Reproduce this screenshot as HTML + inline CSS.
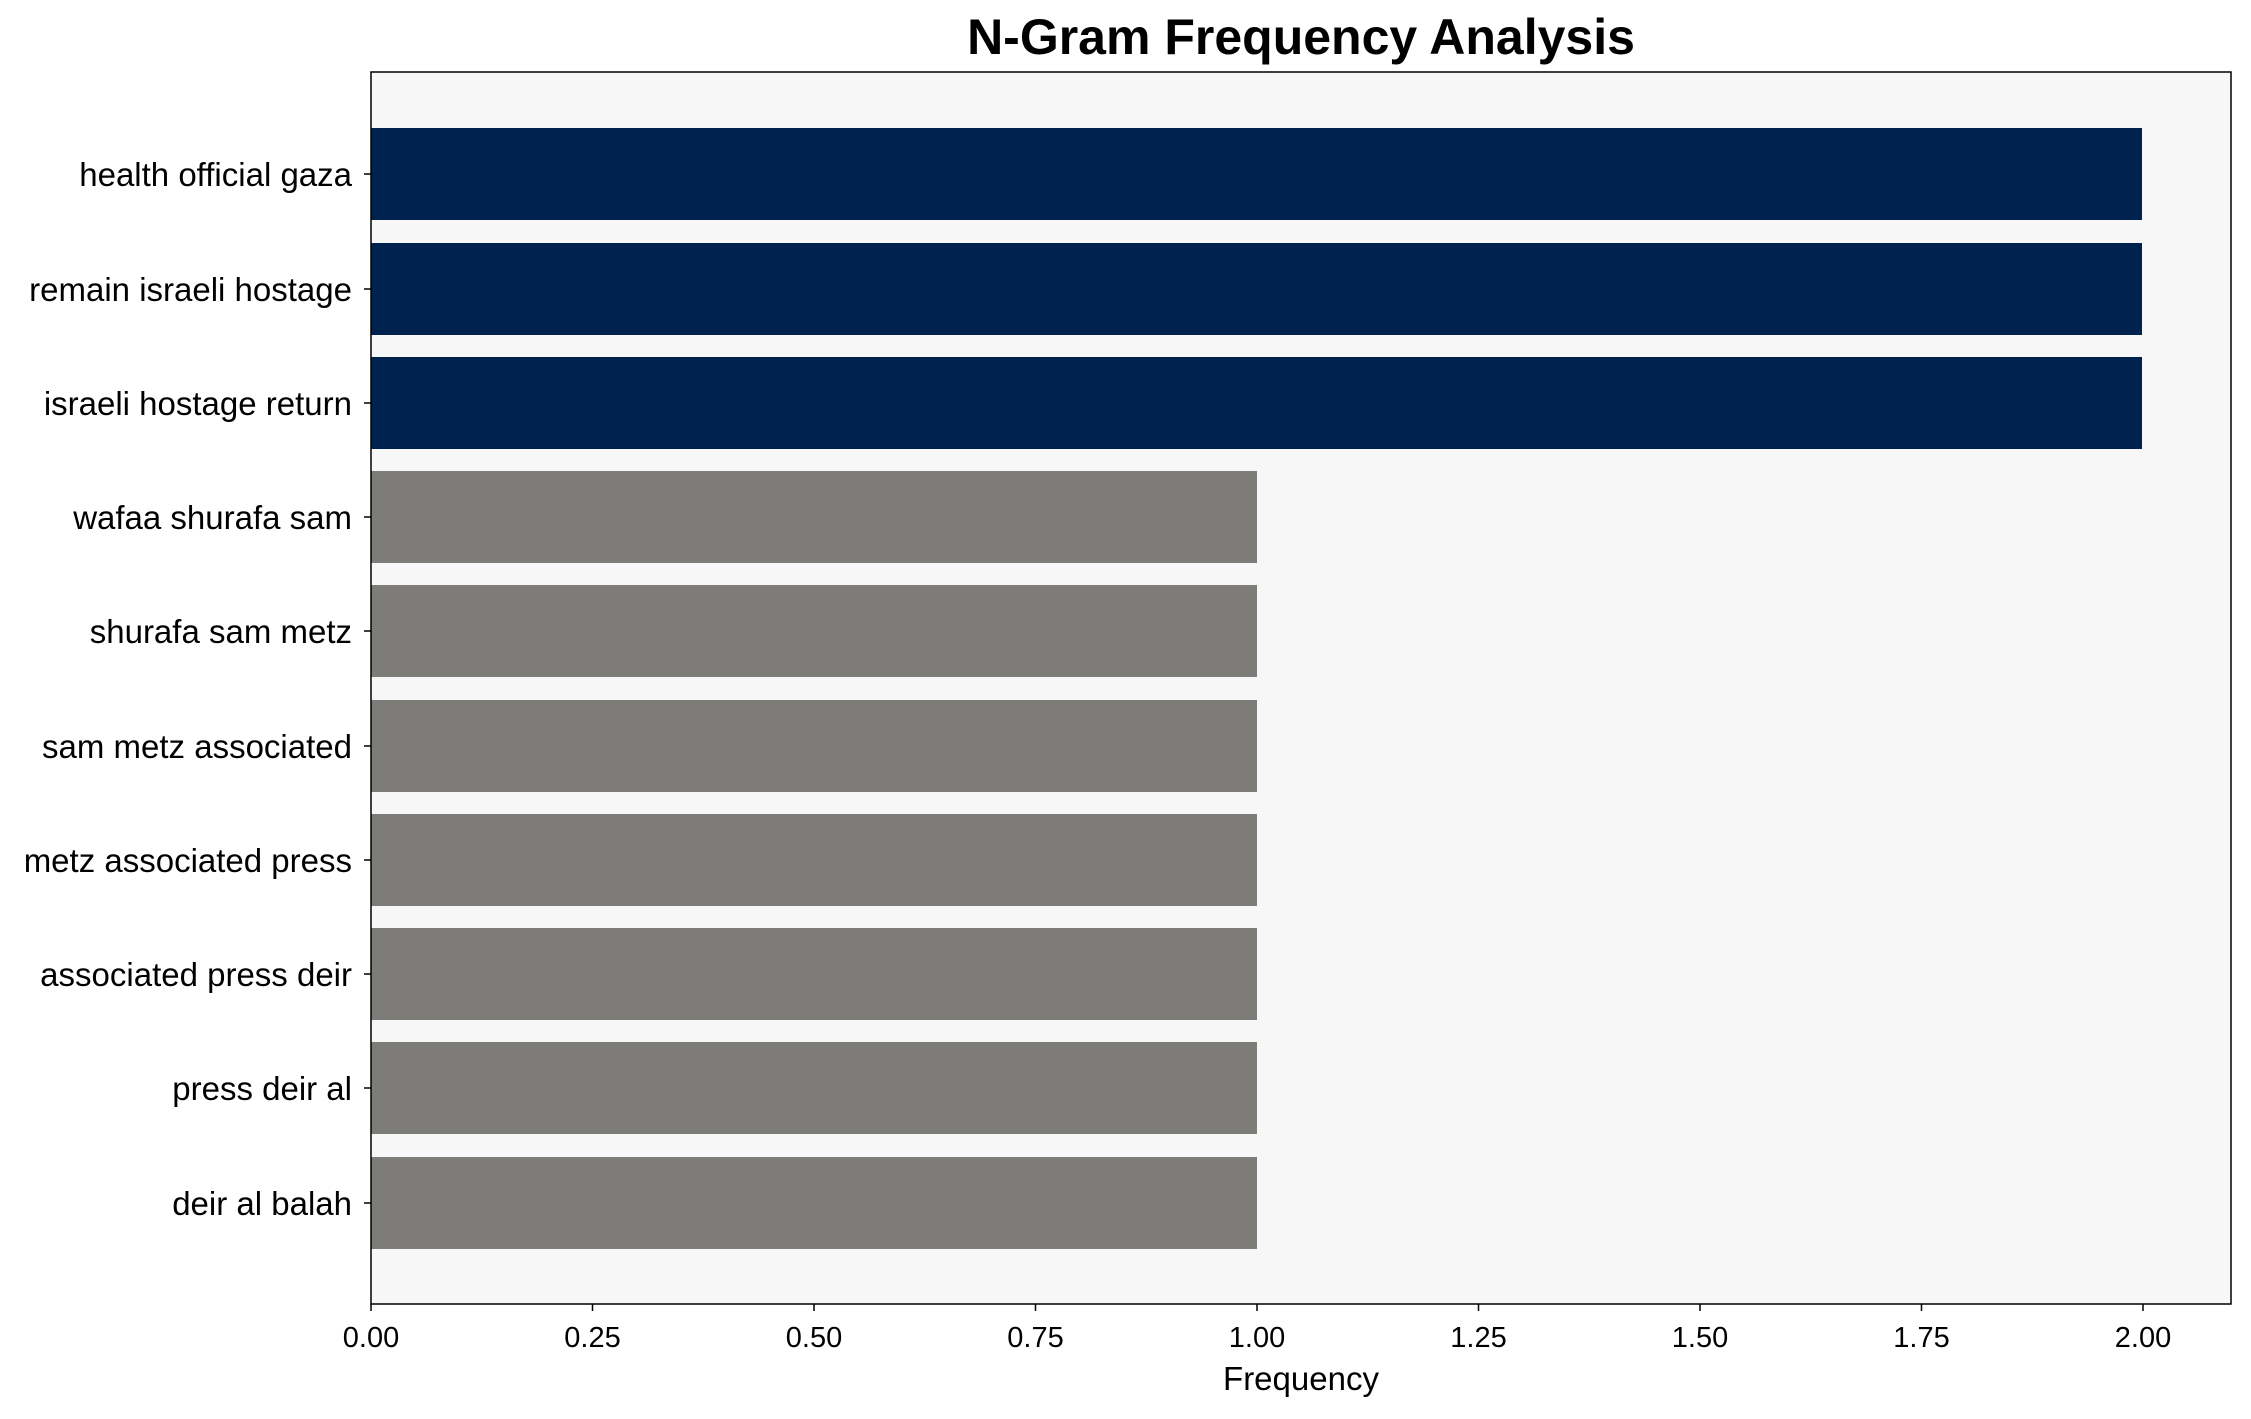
<!DOCTYPE html>
<html><head><style>body{margin:0;background:#fff}</style></head><body>
<svg width="2251" height="1414" xmlns="http://www.w3.org/2000/svg" font-family="Liberation Sans, Arial, sans-serif">
<rect x="0" y="0" width="2251" height="1414" fill="#fff"/>
<rect x="371" y="72" width="1860" height="1232" fill="#f7f7f7"/>
<g fill="#00224e">
<rect x="371" y="128" width="1771" height="92"/>
<rect x="371" y="243" width="1771" height="92"/>
<rect x="371" y="357" width="1771" height="92"/>
</g>
<g fill="#7d7c78">
<rect x="371" y="471" width="886" height="92"/>
<rect x="371" y="585" width="886" height="92"/>
<rect x="371" y="700" width="886" height="92"/>
<rect x="371" y="814" width="886" height="92"/>
<rect x="371" y="928" width="886" height="92"/>
<rect x="371" y="1042" width="886" height="92"/>
<rect x="371" y="1157" width="886" height="92"/>
</g>
<rect x="371" y="72" width="1860" height="1232" fill="none" stroke="#000" stroke-width="1.5"/>
<g stroke="#000" stroke-width="1.5">
<line x1="364" y1="174" x2="371" y2="174"/><line x1="364" y1="289" x2="371" y2="289"/>
<line x1="364" y1="403" x2="371" y2="403"/><line x1="364" y1="517" x2="371" y2="517"/>
<line x1="364" y1="631" x2="371" y2="631"/><line x1="364" y1="746" x2="371" y2="746"/>
<line x1="364" y1="860" x2="371" y2="860"/><line x1="364" y1="974" x2="371" y2="974"/>
<line x1="364" y1="1088" x2="371" y2="1088"/><line x1="364" y1="1203" x2="371" y2="1203"/>
<line x1="371" y1="1304" x2="371" y2="1311"/><line x1="592.5" y1="1304" x2="592.5" y2="1311"/>
<line x1="814" y1="1304" x2="814" y2="1311"/><line x1="1035.5" y1="1304" x2="1035.5" y2="1311"/>
<line x1="1257" y1="1304" x2="1257" y2="1311"/><line x1="1478.5" y1="1304" x2="1478.5" y2="1311"/>
<line x1="1700" y1="1304" x2="1700" y2="1311"/><line x1="1921.5" y1="1304" x2="1921.5" y2="1311"/>
<line x1="2143" y1="1304" x2="2143" y2="1311"/>
</g>
<g font-size="33" text-anchor="end" fill="#000">
<text x="352" y="186">health official gaza</text>
<text x="352" y="301">remain israeli hostage</text>
<text x="352" y="415">israeli hostage return</text>
<text x="352" y="529">wafaa shurafa sam</text>
<text x="352" y="643">shurafa sam metz</text>
<text x="352" y="758">sam metz associated</text>
<text x="352" y="872">metz associated press</text>
<text x="352" y="986">associated press deir</text>
<text x="352" y="1100">press deir al</text>
<text x="352" y="1215">deir al balah</text>
</g>
<g font-size="29" text-anchor="middle" fill="#000">
<text x="371" y="1347">0.00</text><text x="592.5" y="1347">0.25</text>
<text x="814" y="1347">0.50</text><text x="1035.5" y="1347">0.75</text>
<text x="1257" y="1347">1.00</text><text x="1478.5" y="1347">1.25</text>
<text x="1700" y="1347">1.50</text><text x="1921.5" y="1347">1.75</text>
<text x="2143" y="1347">2.00</text>
<text x="1301" y="1390" font-size="33">Frequency</text>
<text x="1301" y="54" font-size="50" font-weight="bold">N-Gram Frequency Analysis</text>
</g>
</svg>
</body></html>
